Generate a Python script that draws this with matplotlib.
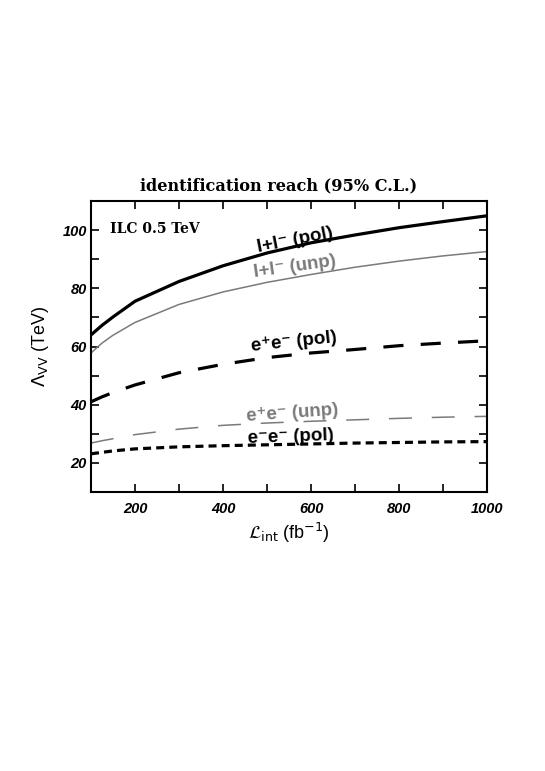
import matplotlib.pyplot as plt
import numpy as np
from matplotlib.ticker import MultipleLocator

# integrated luminosity (fb^-1)
lumi = np.array([100, 125, 150, 200, 300, 400, 500, 600, 700, 800, 900, 1000])

# identification reach Lambda_VV (TeV)
ll_pol = np.array([64.0, 67.3, 70.2, 75.6, 82.4, 87.8, 92.2, 95.7, 98.4, 100.9, 103.0, 105.0])
ll_unp = np.array([57.8, 61.2, 63.9, 68.3, 74.5, 78.8, 82.1, 84.8, 87.3, 89.4, 91.2, 92.7])
eep_pol = np.array([41.0, 42.7, 44.2, 46.8, 51.0, 53.9, 56.2, 57.8, 59.0, 60.3, 61.2, 62.0])
eep_unp = np.array([26.8, 27.6, 28.3, 29.7, 31.6, 32.9, 33.7, 34.3, 34.8, 35.3, 35.7, 36.0])
eem_pol = np.array([23.1, 23.6, 24.1, 24.8, 25.5, 25.9, 26.2, 26.5, 26.8, 27.0, 27.2, 27.3])

gray = '#7a7a7a'
tickfont = dict(family='Liberation Sans', weight='bold', style='italic', size=10.5)

fig = plt.figure(figsize=(5.45, 7.71), dpi=100)
ax = fig.add_axes([0.167, 0.362, 0.727, 0.377])

ax.plot(lumi, ll_pol, color='black', lw=2.3, solid_capstyle='butt')
ax.plot(lumi, ll_unp, color=gray, lw=1.1)
l, = ax.plot(lumi, eep_pol, color='black', lw=2.3, solid_capstyle='butt')
l.set_dashes((6.3, 5.4))
l, = ax.plot(lumi, eep_unp, color=gray, lw=1.1)
l.set_dashes((15, 13))
l, = ax.plot(lumi, eem_pol, color='black', lw=2.3)
l.set_dashes((2.5, 1.6))

lab = dict(family=['Liberation Sans', 'DejaVu Sans'], weight='bold', size=13.5,
           ha='center', va='center')
ax.text(563, 96.4, 'l+l\u207b (pol)', rotation=11, color='black', **lab)
ax.text(563, 87.6, 'l+l\u207b (unp)', rotation=8, color=gray, **lab)
ax.text(562, 61.6, 'e\u207ae\u207b (pol)', rotation=6, color='black', **lab)
ax.text(557, 36.9, 'e\u207ae\u207b (unp)', rotation=4, color=gray, **lab)
ax.text(553, 28.9, 'e\u207be\u207b (pol)', rotation=2, color='black', **lab)

ax.text(143, 100.5, 'ILC 0.5 TeV', family='DejaVu Serif', weight='bold', size=10,
        ha='left', va='center')

ax.set_xlim(100, 1000)
ax.set_ylim(10, 110)
ax.xaxis.set_major_locator(MultipleLocator(200))
ax.xaxis.set_minor_locator(MultipleLocator(100))
ax.yaxis.set_major_locator(MultipleLocator(20))
ax.yaxis.set_minor_locator(MultipleLocator(10))
ax.set_xticks([200, 400, 600, 800, 1000])
ax.set_yticks([20, 40, 60, 80, 100])

for s in ax.spines.values():
    s.set_linewidth(1.5)
ax.tick_params(which='both', direction='in', top=True, right=True, length=5.5, width=1.2)
ax.tick_params(axis='x', pad=7)
ax.tick_params(axis='y', pad=3)
for t in ax.get_xticklabels() + ax.get_yticklabels():
    t.set_fontproperties(tickfont)

fig.text(0.511, 0.759, 'identification reach (95% C.L.)', family='DejaVu Serif',
         weight='bold', size=11.6, ha='center', va='center')
ax.set_xlabel(r'$\mathcal{L}_{\mathrm{int}}$ (fb$^{\mathrm{-1}}$)', family='Liberation Sans',
              size=13, labelpad=4)
ax.set_ylabel(r'$\Lambda_{\mathrm{VV}}$ (TeV)', family='Liberation Sans', size=13, labelpad=8)

fig.savefig('out.png', dpi=100)
